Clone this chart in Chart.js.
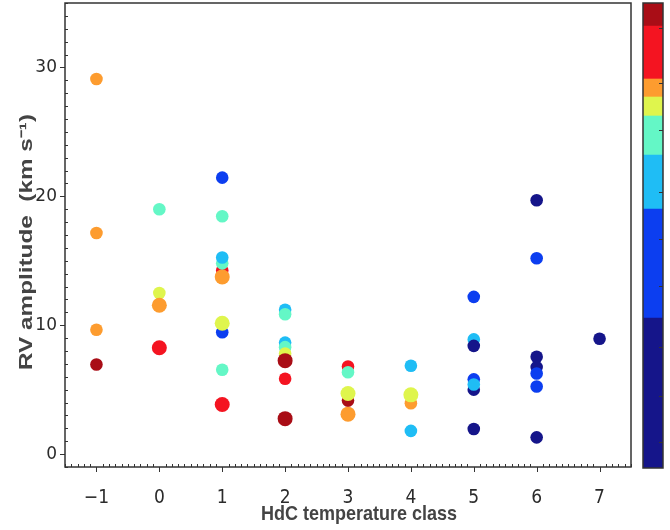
<!DOCTYPE html>
<html>
<head>
<meta charset="utf-8">
<script src="https://cdn.jsdelivr.net/npm/chart.js@4.4.1/dist/chart.umd.min.js"></script>
<style>
  html, body { margin: 0; padding: 0; background: #fff; }
  #wrap { position: relative; width: 670px; height: 530px; }
  #main-box { position: absolute; left: 0; top: 0; width: 640px; height: 530px; }
  #bar-box { position: absolute; left: 640px; top: 0; width: 30px; height: 530px; }
</style>
</head>
<body>
<div id="wrap">
  <div id="main-box"><canvas id="rv-chart"></canvas></div>
  <div id="bar-box"><canvas id="colorbar"></canvas></div>
</div>
<script>
// One entry per star: HdC class, RV amplitude (km/s), colour-bin index, big-marker flag.
const tempClass = [
  -1, -1, -1, -1,
  0, 0, 0, 0,
  1, 1, 1, 1, 1, 1, 1, 1, 1, 1,
  2, 2, 2, 2, 2, 2, 2, 2,
  3, 3, 3, 3, 3,
  4, 4, 4, 4,
  5, 5, 5, 5, 5, 5, 5,
  6, 6, 6, 6, 6, 6, 6,
  7,
];
const rvAmplitude = [
  29.1, 17.15, 9.65, 6.95,
  19.0, 12.5, 11.55, 8.25,
  21.45, 18.45, 14.25, 13.75, 14.8, 15.25, 9.45, 10.15, 6.55, 3.85,
  11.2, 10.85, 8.65, 8.3, 7.8, 7.25, 5.85, 2.75,
  6.8, 6.35, 4.15, 4.7, 3.1,
  6.85, 3.95, 4.6, 1.8,
  12.2, 8.9, 8.4, 5.0, 5.8, 5.4, 1.95,
  19.7, 15.2, 7.55, 6.75, 6.25, 5.25, 1.3,
  8.95,
];
const colorBin = [
  5, 5, 5, 7,
  3, 4, 5, 6,
  1, 3, 6, 5, 3, 2, 1, 4, 3, 6,
  2, 3, 2, 3, 4, 7, 6, 7,
  6, 3, 7, 4, 5,
  2, 5, 4, 2,
  1, 2, 0, 0, 1, 2, 0,
  0, 1, 0, 0, 1, 1, 0,
  0,
];
const bigMarker = [
  0, 0, 0, 0,
  0, 0, 1, 1,
  0, 0, 0, 1, 0, 0, 0, 1, 0, 1,
  0, 0, 0, 0, 0, 1, 0, 1,
  0, 0, 0, 1, 1,
  0, 0, 1, 0,
  0, 0, 0, 0, 0, 0, 0,
  0, 0, 0, 0, 0, 0, 0,
  0,
];

const xTicks = [-1, 0, 1, 2, 3, 4, 5, 6, 7];
const yTicks = [0, 10, 20, 30];
const xTitle = 'HdC temperature class';
const yTitle = 'RV amplitude  (km s\u207B\u00B9)';

// colour bar, bottom to top
const binColors = ['#15158a', '#0c3ef0', '#1fbdf5', '#64f7c6', '#dff54d', '#fd9c2f', '#f41421', '#a90d16'];
const binHeights = [150, 109, 54, 39, 19, 18, 53, 23];
const colorbarTicks = [26, 72, 121, 182, 229, 276, 338, 385, 440];

const FRAME = '#333';
const TITLE_FONT = 'bold 18px "Liberation Sans", Arial, sans-serif';

// Frame, matplotlib-style ticks (minor inward, major outward) and the two axis titles.
// The titles in the source image are stretched along their length, so they're drawn by hand.
const framePlugin = {
  id: 'frameTicks',
  afterDraw(chart) {
    const { ctx, chartArea: a, scales } = chart;
    const xs = scales.x, ys = scales.y;
    ctx.save();
    ctx.strokeStyle = FRAME;
    ctx.lineWidth = 1;
    ctx.beginPath();
    for (let i = -15; i <= 75; i++) {
      const px = Math.round(xs.getPixelForValue(i / 10)) + 0.5;
      if (i % 10 === 0) {
        ctx.moveTo(px, a.bottom); ctx.lineTo(px, a.bottom + 5);
      } else {
        ctx.moveTo(px, a.bottom); ctx.lineTo(px, a.bottom - 3);
      }
    }
    for (let v = -1; v <= 35; v++) {
      const py = Math.round(ys.getPixelForValue(v)) + 0.5;
      if (v % 10 === 0) {
        ctx.moveTo(a.left, py); ctx.lineTo(a.left - 5, py);
      } else {
        ctx.moveTo(a.left, py); ctx.lineTo(a.left + 3, py);
      }
    }
    ctx.stroke();
    ctx.lineWidth = 1.5;
    ctx.strokeRect(a.left, a.top, a.right - a.left, a.bottom - a.top);

    ctx.fillStyle = '#444';
    ctx.font = TITLE_FONT;
    ctx.textAlign = 'center';
    ctx.textBaseline = 'middle';
    ctx.save();
    ctx.translate(359, 514);
    ctx.scale(1, 1.15);
    ctx.fillText(xTitle, 0, 0);
    ctx.restore();
    ctx.save();
    ctx.translate(27, 242);
    ctx.rotate(-Math.PI / 2);
    ctx.scale(1.35, 1);
    ctx.fillText(yTitle, 0, 0);
    ctx.restore();
    ctx.restore();
  },
};

const points = tempClass.map((x, i) => ({ x, y: rvAmplitude[i] }));

new Chart(document.getElementById('rv-chart'), {
  type: 'scatter',
  data: {
    datasets: [{
      data: points,
      backgroundColor: colorBin.map((b) => binColors[b]),
      pointRadius: bigMarker.map((b) => (b ? 7.5 : 6.3)),
      pointBorderWidth: 0,
      borderWidth: 0,
    }],
  },
  options: {
    responsive: true,
    maintainAspectRatio: false,
    animation: false,
    layout: { autoPadding: false, padding: { left: 0, right: 9, top: 3, bottom: 0 } },
    plugins: { legend: { display: false }, tooltip: { enabled: false } },
    scales: {
      x: {
        type: 'linear',
        min: -1.5,
        max: 7.5,
        afterBuildTicks: (s) => { s.ticks = xTicks.map((v) => ({ value: v })); },
        afterFit: (s) => { s.height = 63; s.paddingLeft = 0; s.paddingRight = 0; },
        grid: { display: false, drawTicks: false },
        border: { display: false },
        ticks: {
          padding: 20,
          color: '#2b2b2b',
          font: { family: '"DejaVu Sans Condensed", "DejaVu Sans", sans-serif', size: 19 },
          callback: (v) => String(v).replace('-', '\u2212'),
        },
      },
      y: {
        type: 'linear',
        min: -1,
        max: 35,
        afterBuildTicks: (s) => { s.ticks = yTicks.map((v) => ({ value: v })); },
        afterFit: (s) => { s.width = 65; s.paddingTop = 0; s.paddingBottom = 0; },
        grid: { display: false, drawTicks: false },
        border: { display: false },
        ticks: {
          padding: 8,
          color: '#2b2b2b',
          font: { family: '"DejaVu Sans", sans-serif', size: 17 },
        },
      },
    },
  },
  plugins: [framePlugin],
});

const colorbarFrame = {
  id: 'colorbarFrame',
  afterDraw(chart) {
    const { ctx, chartArea: a, scales } = chart;
    ctx.save();
    ctx.strokeStyle = FRAME;
    ctx.lineWidth = 1;
    ctx.beginPath();
    colorbarTicks.forEach((v) => {
      const py = Math.round(scales.y.getPixelForValue(v)) + 0.5;
      ctx.moveTo(a.right, py); ctx.lineTo(a.right - 4, py);
    });
    ctx.stroke();
    ctx.lineWidth = 1.5;
    ctx.strokeRect(a.left, a.top, a.right - a.left, a.bottom - a.top);
    ctx.restore();
  },
};

new Chart(document.getElementById('colorbar'), {
  type: 'bar',
  data: {
    labels: [''],
    datasets: binHeights.map((h, i) => ({
      data: [h],
      backgroundColor: binColors[i],
      borderWidth: 0,
      barPercentage: 1,
      categoryPercentage: 1,
    })),
  },
  options: {
    responsive: true,
    maintainAspectRatio: false,
    animation: false,
    layout: { autoPadding: false, padding: { left: 3, right: 7, top: 3, bottom: 62 } },
    plugins: { legend: { display: false }, tooltip: { enabled: false } },
    scales: {
      x: { stacked: true, display: false },
      y: { stacked: true, display: false, min: 0, max: 465 },
    },
  },
  plugins: [colorbarFrame],
});
</script>
</body>
</html>
